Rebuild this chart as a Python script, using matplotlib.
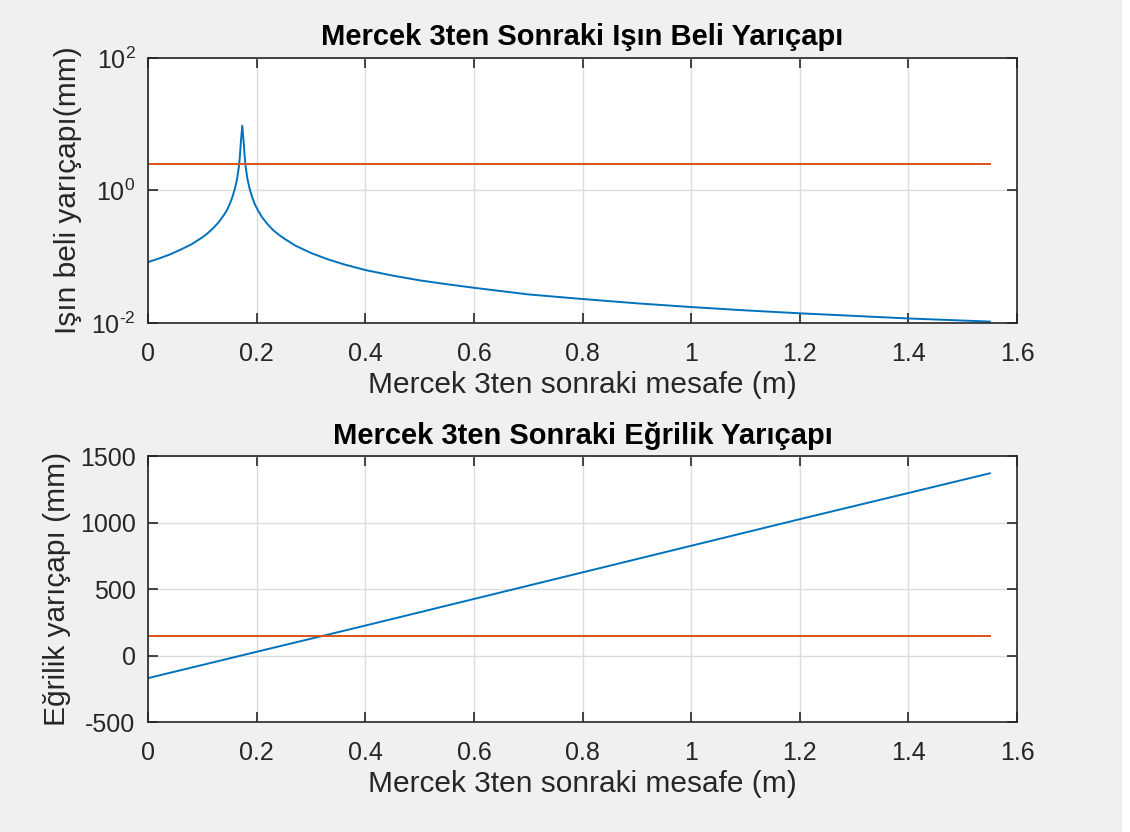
import matplotlib.pyplot as plt
from matplotlib.patches import Rectangle

plt.rcParams['font.family'] = ['Liberation Sans', 'DejaVu Sans']
plt.rcParams['mathtext.fontset'] = 'custom'
plt.rcParams['mathtext.rm'] = 'Liberation Sans'
plt.rcParams['mathtext.it'] = 'Liberation Sans'

# ust grafik: isin beli yaricapi (mm), log eksen
z_bel = [0, 0.02, 0.04, 0.06, 0.08, 0.1, 0.11, 0.12, 0.13, 0.14, 0.145,
         0.15, 0.155, 0.16, 0.164, 0.167, 0.169, 0.171, 0.1735,
         0.176, 0.178, 0.18, 0.183, 0.187, 0.192, 0.197, 0.203, 0.21, 0.22,
         0.23, 0.24, 0.25, 0.27, 0.3, 0.33, 0.36, 0.4, 0.45, 0.5, 0.55, 0.6,
         0.7, 0.8, 0.9, 1.0, 1.1, 1.2, 1.3, 1.4, 1.55]
w_bel = [0.083, 0.094, 0.108, 0.128, 0.154, 0.196, 0.227, 0.27, 0.331, 0.43,
         0.50, 0.61, 0.78, 1.07, 1.5, 2.2, 3.2, 5.5, 9.5,
         5.5, 3.2, 2.2, 1.5, 1.07, 0.78, 0.61, 0.49, 0.395, 0.31,
         0.254, 0.217, 0.19, 0.149, 0.114, 0.092, 0.077, 0.063, 0.052, 0.044,
         0.0385, 0.034, 0.027, 0.023, 0.0198, 0.0174, 0.0155, 0.014, 0.0128,
         0.0117, 0.0105]
z_sinir = [0, 1.55]
w_sinir = [2.5, 2.5]

# alt grafik: egrilik yaricapi (mm)
z_egr = [0, 0.2, 0.4, 0.6, 0.8, 1.0, 1.2, 1.4, 1.55]
r_egr = [-170, 28, 225, 425, 625, 825, 1025, 1222, 1370]
r_sinir = [150, 150]

x_ticks = [0, 0.2, 0.4, 0.6, 0.8, 1, 1.2, 1.4, 1.6]
x_ticklabels = ['0', '0.2', '0.4', '0.6', '0.8', '1', '1.2', '1.4', '1.6']
y1_ticks = [1e-2, 1e0, 1e2]
y1_ticklabels = [r'$10^{\text{-}2}$', r'$10^{0}$', r'$10^{2}$']
y2_ticks = [-500, 0, 500, 1000, 1500]
y2_ticklabels = ['-500', '0', '500', '1000', '1500']

mavi = '#0072BD'
turuncu = '#D95319'
koyu = '#262626'

fig = plt.figure(figsize=(11.3, 8.32), dpi=100, facecolor='white')
fig.patches.append(Rectangle((0, 0), 1122 / 1130, 1, transform=fig.transFigure,
                             facecolor='#f0f0f0', edgecolor='none', zorder=-10))

ax1 = fig.add_axes([0.131, 0.6118, 0.769, 0.3185])
ax2 = fig.add_axes([0.131, 0.1322, 0.769, 0.3197])


def duzenle(ax):
    ax.set_facecolor('white')
    for s in ax.spines.values():
        s.set_color(koyu)
        s.set_linewidth(1.2)
    ax.tick_params(direction='in', length=7, width=1.2, colors=koyu,
                   labelsize=18, top=True, right=True, pad=9)
    ax.tick_params(axis='x', pad=14)
    ax.grid(True, color='#dcdcdc', linewidth=1.0)
    ax.set_axisbelow(True)
    ax.set_xlim(0, 1.6)
    ax.set_xticks(x_ticks)
    ax.set_xticklabels(x_ticklabels)
    ax.set_xlabel('Mercek 3ten sonraki mesafe (m)', fontsize=21.5, color=koyu,
                  labelpad=3)


ax1.plot(z_bel, w_bel, color=mavi, linewidth=1.4)
ax1.plot(z_sinir, w_sinir, color=turuncu, linewidth=1.4)
ax1.set_yscale('log')
ax1.set_ylim(1e-2, 1e2)
ax1.set_yticks(y1_ticks)
ax1.set_yticklabels(y1_ticklabels)
ax1.minorticks_off()
duzenle(ax1)
ax1.set_ylabel('Işın beli yarıçapı(mm)', fontsize=21.5, color=koyu, labelpad=6)
ax1.set_title('Mercek 3ten Sonraki Işın Beli Yarıçapı', fontsize=21,
              fontweight='bold', pad=9)

ax2.plot(z_egr, r_egr, color=mavi, linewidth=1.4)
ax2.plot(z_sinir, r_sinir, color=turuncu, linewidth=1.4)
ax2.set_ylim(-500, 1500)
ax2.set_yticks(y2_ticks)
ax2.set_yticklabels(y2_ticklabels)
duzenle(ax2)
ax2.set_ylabel('Eğrilik yarıçapı (mm)', fontsize=21.5, color=koyu, labelpad=6)
ax2.set_title('Mercek 3ten Sonraki Eğrilik Yarıçapı', fontsize=21,
              fontweight='bold', pad=9)

fig.savefig('out.png', dpi=100, facecolor=fig.get_facecolor())
